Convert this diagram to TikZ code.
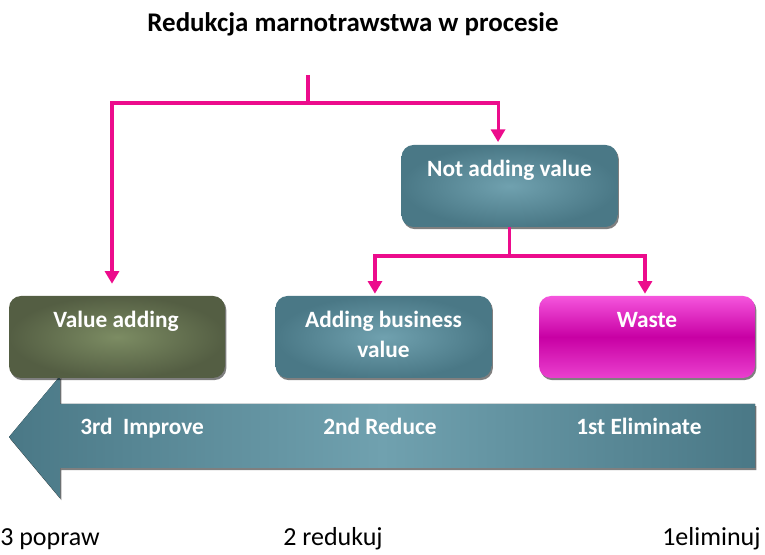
\documentclass[tikz,border=0pt]{standalone}
\usepackage{fontspec}
\setmainfont{Carlito}
\usetikzlibrary{arrows.meta,shadows}
\definecolor{hotpink}{HTML}{EC0C8C}
\definecolor{tealout}{HTML}{4A7886}
\definecolor{tealin}{HTML}{70A1AF}
\definecolor{olout}{HTML}{545E43}
\definecolor{olin}{HTML}{7C8C63}
\definecolor{magtop}{HTML}{F555DD}
\definecolor{magmid}{HTML}{C800A4}
\definecolor{magbot}{HTML}{EA40CE}
\tikzset{
  box/.style={rectangle, rounded corners=9pt, minimum width=162pt, minimum height=61.5pt, inner sep=0pt,
    drop shadow={shadow xshift=1pt, shadow yshift=-1.6pt, fill=black, opacity=0.5}},
  tealbox/.style={box, inner color=tealin, outer color=tealout},
  olivebox/.style={box, inner color=olin, outer color=olout},
  wastebox/.style={box, top color=magtop, bottom color=magbot, middle color=magmid},
  boxtxt/.style={anchor=base, text=white, font=\fontsize{17.5}{21}\selectfont\bfseries, inner sep=0pt},
  arrtxt/.style={anchor=base west, text=white, font=\fontsize{17.5}{21}\selectfont\bfseries, inner sep=0pt},
  bottxt/.style={anchor=base west, text=black, font=\fontsize{19.5}{23}\selectfont, inner sep=0pt},
  titletxt/.style={anchor=base, text=black, font=\fontsize{20.2}{24}\selectfont\bfseries, inner sep=0pt},
  flow/.style={draw=hotpink, line width=2.3pt},
  flowarrow/.style={flow, -{Triangle[width=10.5pt,length=9.5pt]}},
  bigarrow/.style={left color=tealout, right color=tealout, middle color=tealin,
    drop shadow={shadow xshift=1pt, shadow yshift=-1.6pt, fill=black, opacity=0.5}}
}
\begin{document}
\begin{tikzpicture}[x=0.75pt, y=-0.75pt]
\useasboundingbox (0,0) rectangle (765,555);

% title
\node[titletxt] (title) at (353,32) {Redukcja marnotrawstwa w procesie};

% big arrow
\fill[bigarrow] (755,404) -- (60,404) -- (60,376) -- (9,437) -- (60,498) -- (60,468) -- (755,468) -- cycle;
\node[arrtxt] (l3) at (80,435) {3rd~ Improve};
\node[arrtxt] (l2) at (323,435) {2nd Reduce};
\node[arrtxt] (l1) at (576,435) {1st Eliminate};

% boxes
\node[tealbox] (notadd) at (509.5,186) {};
\node[olivebox] (valadd) at (117,337) {};
\node[tealbox] (addbiz) at (383.5,337) {};
\node[wastebox] (waste) at (647,337) {};

\node[boxtxt] (tnot) at (509.5,177) {Not adding value};
\node[boxtxt] (tval) at (116,328) {Value adding};
\node[boxtxt] (tbiz1) at (383.5,328) {Adding business};
\node[boxtxt] (tbiz2) at (383.5,358) {value};
\node[boxtxt] (twaste) at (647,328) {Waste};

% connectors
\coordinate (top) at (308,75);
\coordinate (split) at (308,103);
\coordinate (split2) at (509.5,256);
\draw[flow] (top) -- (split);
\draw[flowarrow, shorten >=9pt] (split) -| ([xshift=-3.75pt]valadd.north);
\draw[flowarrow, shorten >=2pt] (split) -| ([xshift=-8.6pt]notadd.north);
\draw[flow] (notadd.south) -- (split2);
\draw[flowarrow, shorten >=1.5pt] (split2) -| ([xshift=-6.4pt]addbiz.north);
\draw[flowarrow, shorten >=1.5pt] (split2) -| ([xshift=-1.5pt]waste.north);

% bottom labels
\node[bottxt] (b3) at (0,546) {3 popraw};
\node[bottxt] (b2) at (283,546) {2 redukuj};
\node[bottxt] (b1) at (662,546) {1eliminuj};
\end{tikzpicture}
\end{document}
